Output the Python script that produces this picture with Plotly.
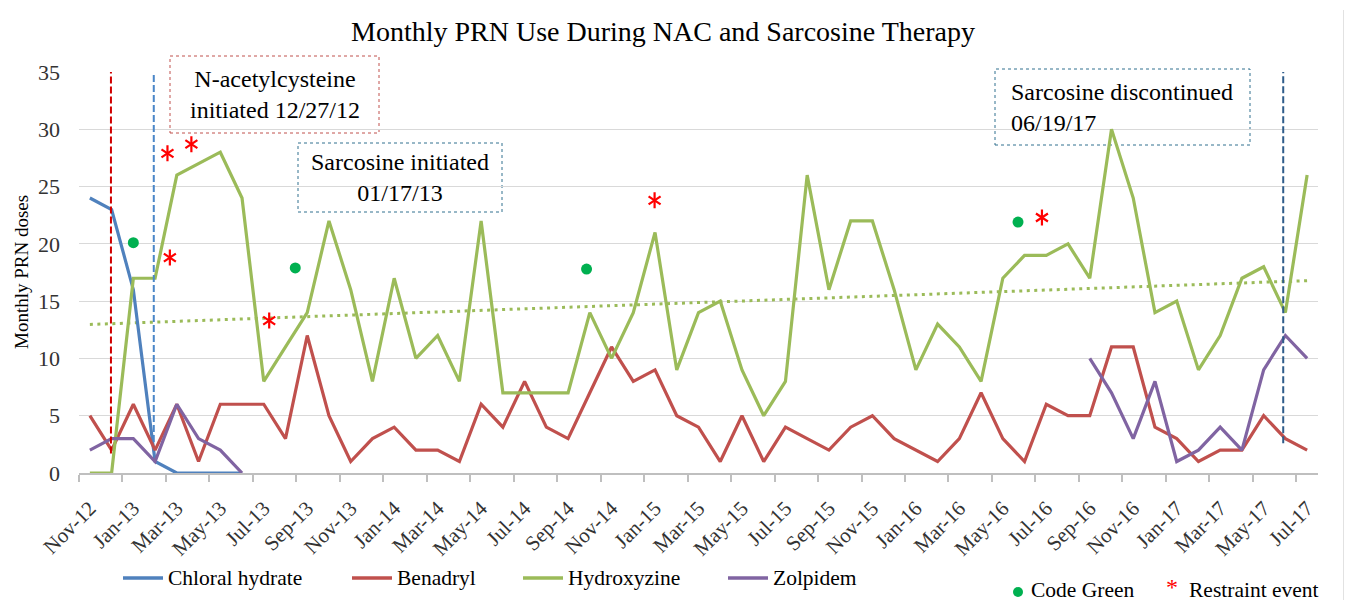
import plotly.graph_objects as go
import numpy as np

# ---------------- data ----------------
months = ["Nov-12", "Dec-12", "Jan-13", "Feb-13", "Mar-13", "Apr-13", "May-13", "Jun-13", "Jul-13", "Aug-13",
          "Sep-13", "Oct-13", "Nov-13", "Dec-13", "Jan-14", "Feb-14", "Mar-14", "Apr-14", "May-14", "Jun-14",
          "Jul-14", "Aug-14", "Sep-14", "Oct-14", "Nov-14", "Dec-14", "Jan-15", "Feb-15", "Mar-15", "Apr-15",
          "May-15", "Jun-15", "Jul-15", "Aug-15", "Sep-15", "Oct-15", "Nov-15", "Dec-15", "Jan-16", "Feb-16",
          "Mar-16", "Apr-16", "May-16", "Jun-16", "Jul-16", "Aug-16", "Sep-16", "Oct-16", "Nov-16", "Dec-16",
          "Jan-17", "Feb-17", "Mar-17", "Apr-17", "May-17", "Jun-17", "Jul-17"]

chloral = [24, 23, 16, 1, 0, 0, 0, 0] + [None] * 49

benadryl = [5, 2, 6, 2, 6, 1, 6, 6, 6, 3, 12, 5, 1, 3, 4, 2, 2, 1, 6, 4,
            8, 4, 3, 7, 11, 8, 9, 5, 4, 1, 5, 1, 4, 3, 2, 4, 5, 3, 2, 1,
            3, 7, 3, 1, 6, 5, 5, 11, 11, 4, 3, 1, 2, 2, 5, 3, 2]

hydroxyzine = [0, 0, 17, 17, 26, 27, 28, 24, 8, 11, 14, 22, 16, 8, 17, 10, 12, 8, 22, 7,
               7, 7, 7, 14, 10, 14, 21, 9, 14, 15, 9, 5, 8, 26, 16, 22, 22, 16, 9, 13,
               11, 8, 17, 19, 19, 20, 17, 30, 24, 14, 15, 9, 12, 17, 18, 14, 26]

zolpidem = [2, 3, 3, 1, 6, 3, 2, 0] + [None] * 38 + [10, 7, 3, 8, 1, 2, 4, 2, 9, 12, 10]

# event markers (month index, value level)
code_green_x = [2.0, 9.45, 22.85, 42.7]
code_green_y = [20.1, 17.9, 17.8, 21.9]
restraint_x = [3.57, 4.67, 3.68, 8.25, 25.98, 43.8]
restraint_y = [27.9, 28.7, 18.8, 13.3, 23.8, 22.3]

# treatment date markers (month index, bottom level)
nac_line_x, nac_line_y0 = 0.97, 1.7
sarc_start_x, sarc_start_y0 = 2.94, 2.7
sarc_stop_x, sarc_stop_y0 = 54.9, 2.6

tick_labels = months[::2]
tick_positions = list(range(0, len(months), 2))
y_ticks = [0, 5, 10, 15, 20, 25, 30, 35]

# ---------------- styling ----------------
BLUE = "#4F81BD"
RED = "#C0504D"
GREEN = "#9BBB59"
PURPLE = "#8064A2"
SERIF = "Liberation Serif"

x_idx = list(range(len(months)))

fig = go.Figure()

# trendline for hydroxyzine (linear fit of the series)
coef = np.polyfit(x_idx, hydroxyzine, 1)
trend = np.polyval(coef, x_idx)
fig.add_trace(go.Scatter(x=x_idx, y=trend, mode="lines",
                         line=dict(color=GREEN, width=3, dash="3px,4.5px"),
                         hoverinfo="skip", showlegend=False))

for name, vals, col in [("Chloral hydrate", chloral, BLUE), ("Benadryl", benadryl, RED),
                        ("Hydroxyzine", hydroxyzine, GREEN), ("Zolpidem", zolpidem, PURPLE)]:
    fig.add_trace(go.Scatter(x=x_idx, y=vals, mode="lines", name=name,
                             line=dict(color=col, width=3.2), connectgaps=False,
                             showlegend=False))

fig.add_trace(go.Scatter(x=code_green_x, y=code_green_y, mode="markers", name="Code Green",
                         marker=dict(color="#00B050", size=11), showlegend=False))
# six-spoke asterisk built from two Y-shaped open markers at the same points
for sym in ["y-up-open", "y-down-open"]:
    fig.add_trace(go.Scatter(x=restraint_x, y=restraint_y, mode="markers", name="Restraint event",
                             marker=dict(symbol=sym, size=10, color="#FF0000",
                                         line=dict(color="#FF0000", width=2.2)),
                             showlegend=False))

shapes = []
annotations = []

# vertical date lines
for xv, y0, col in [(nac_line_x, nac_line_y0, "#D00000"), (sarc_start_x, sarc_start_y0, "#4A86C8"),
                    (sarc_stop_x, sarc_stop_y0, "#2F5C8A")]:
    shapes.append(dict(type="line", xref="x", yref="y", x0=xv, x1=xv, y0=y0, y1=35,
                       line=dict(color=col, width=2, dash="7px,3px")))

# ---------------- page-pixel helpers for annotations ----------------
PL, PR, PT, PB = 79, 1318, 72, 473


def px(x):
    return (x - PL) / (PR - PL)


def py(y):
    return (PB - y) / (PB - PT)


# title
annotations.append(dict(text="Monthly PRN Use During NAC and Sarcosine Therapy",
                        x=px(663), y=py(31), xref="paper", yref="paper",
                        xanchor="center", yanchor="middle", showarrow=False,
                        font=dict(family=SERIF, size=28, color="#000000")))
# y-axis title
annotations.append(dict(text="Monthly PRN doses", x=px(21), y=py(272), xref="paper", yref="paper",
                        textangle=-90, xanchor="center", yanchor="middle", showarrow=False,
                        font=dict(family=SERIF, size=19, color="#000000")))

# text boxes
boxes = [
    dict(x0=170, x1=379, y0=56, y1=133, color="#C0504D",
         text="N-acetylcysteine<br>initiated 12/27/12", align="center"),
    dict(x0=298, x1=502, y0=143, y1=212, color="#31708F",
         text="Sarcosine initiated<br>01/17/13", align="center"),
    dict(x0=995, x1=1250, y0=69, y1=145, color="#31708F",
         text="Sarcosine discontinued<br>06/19/17", align="left"),
]
for b in boxes:
    shapes.append(dict(type="rect", xref="paper", yref="paper",
                       x0=px(b["x0"]), x1=px(b["x1"]), y0=py(b["y1"]), y1=py(b["y0"]),
                       line=dict(color=b["color"], width=1, dash="dot"), fillcolor="white",
                       layer="between"))
    if b["align"] == "center":
        annotations.append(dict(text=b["text"], x=px((b["x0"] + b["x1"]) / 2),
                                y=py((b["y0"] + b["y1"]) / 2), xref="paper", yref="paper",
                                xanchor="center", yanchor="middle", align="center", showarrow=False,
                                font=dict(family=SERIF, size=24, color="#000000")))
    else:
        annotations.append(dict(text=b["text"], x=px(b["x0"] + 14),
                                y=py((b["y0"] + b["y1"]) / 2), xref="paper", yref="paper",
                                xanchor="left", yanchor="middle", align="left", showarrow=False,
                                font=dict(family=SERIF, size=24, color="#000000")))

# custom legend
legend_items = [("Chloral hydrate", BLUE, 123), ("Benadryl", RED, 352),
                ("Hydroxyzine", GREEN, 523), ("Zolpidem", PURPLE, 728)]
for name, col, lx in legend_items:
    shapes.append(dict(type="line", xref="paper", yref="paper", x0=px(lx), x1=px(lx + 40),
                       y0=py(578), y1=py(578), line=dict(color=col, width=3.5)))
    annotations.append(dict(text=name, x=px(lx + 43), y=py(578), xref="paper", yref="paper",
                            xanchor="left", yanchor="middle", showarrow=False,
                            font=dict(family=SERIF, size=21.5, color="#000000")))

LEG2 = 590
shapes.append(dict(type="circle", xref="paper", yref="paper",
                   x0=px(1013), x1=px(1023), y0=py(LEG2 + 7), y1=py(LEG2 - 3),
                   fillcolor="#00B050", line=dict(width=0)))
annotations.append(dict(text="Code Green", x=px(1029), y=py(LEG2), xref="paper", yref="paper",
                        xanchor="left", yanchor="middle", showarrow=False,
                        font=dict(family=SERIF, size=21.5, color="#000000")))
annotations.append(dict(text="*", x=px(1172), y=py(LEG2 - 3), xref="paper", yref="paper",
                        xanchor="center", yanchor="middle", showarrow=False,
                        font=dict(family=SERIF, size=24, color="#FF0000")))
annotations.append(dict(text="Restraint event", x=px(1187), y=py(LEG2), xref="paper", yref="paper",
                        xanchor="left", yanchor="middle", showarrow=False,
                        font=dict(family=SERIF, size=21.5, color="#000000")))

# chart border at right
shapes.append(dict(type="line", xref="paper", yref="paper", x0=px(1344), x1=px(1344),
                   y0=py(600), y1=py(10), line=dict(color="#D9D9D9", width=1.5)))

fig.update_layout(
    width=1336, height=594,
    margin=dict(l=71, r=26, t=64, b=129, pad=0),
    paper_bgcolor="white", plot_bgcolor="white",
    font=dict(family=SERIF),
    showlegend=False,
    annotations=annotations, shapes=shapes,
    xaxis=dict(range=[-0.5, 56.5], tickmode="array", tickvals=tick_positions, ticktext=tick_labels,
               tickangle=-45, ticks="", showgrid=False, zeroline=False,
               showline=True, linecolor="#BFBFBF", linewidth=1.5,
               ticklabelstandoff=13,
               tickfont=dict(family=SERIF, size=21, color="#333333"),
               minor=dict(ticks="outside", tick0=-0.5, dtick=2, ticklen=7,
                          tickcolor="#BFBFBF", tickwidth=1.5, showgrid=False)),
    yaxis=dict(range=[0, 35], tickmode="array", tickvals=y_ticks, ticks="",
               showgrid=True, gridcolor="#D9D9D9", gridwidth=1, zeroline=False, showline=False,
               ticklabelstandoff=18,
               tickfont=dict(family=SERIF, size=22, color="#333333")),
)

fig.write_html("out.html")
